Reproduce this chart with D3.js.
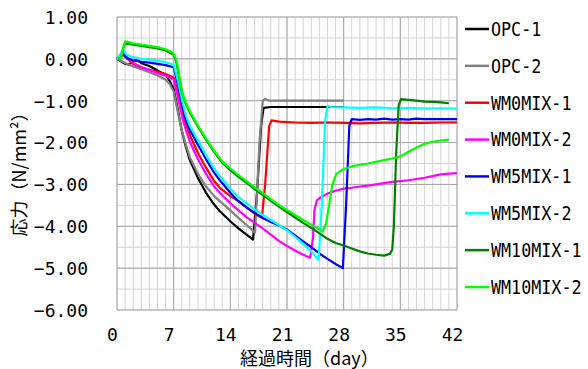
<!DOCTYPE html>
<html>
<head>
<meta charset="utf-8">
<script src="https://cdn.jsdelivr.net/npm/d3@7"></script>
<style>
  body { margin: 0; background: #fff; }
  svg { display: block; }
  .tick text { font-family: "DejaVu Sans Mono", monospace; font-size: 18px; fill: #000; }
  .jp { font-family: "Noto Sans CJK JP", sans-serif; fill: #000; }
  .leg { font-family: "DejaVu Sans Mono", monospace; font-size: 19px; fill: #000; }
</style>
</head>
<body>
<svg width="588" height="369"></svg>
<script>
// series names, in legend order
const names = ["OPC-1", "OPC-2", "WM0MIX-1", "WM0MIX-2", "WM5MIX-1", "WM5MIX-2", "WM10MIX-1", "WM10MIX-2"];

// [day, stress N/mm2]
const opc1 = [[0,0],[0.5,-0.06],[1,-0.12],[1.5,-0.13],[2,-0.05],[2.3,-0.02],[2.7,-0.05],[3,-0.1],[3.5,-0.14],[4,-0.17],[5,-0.28],[5.5,-0.33],[6,-0.38],[6.5,-0.52],[7,-0.72],[7.5,-1.2],[8,-1.72],[8.5,-2.1],[9,-2.42],[10,-2.85],[11,-3.2],[12,-3.48],[12.7,-3.64],[14,-3.88],[15,-4.05],[16,-4.2],[16.8,-4.32],[17.3,-3.2],[17.8,-1.6],[18.1,-1.17],[19,-1.15],[22,-1.15],[25,-1.15],[28,-1.15]];
const opc2 = [[0,0],[1,-0.1],[2,-0.18],[3,-0.25],[4,-0.32],[5,-0.4],[6,-0.5],[6.5,-0.6],[7,-0.78],[7.5,-1.25],[8,-1.7],[8.5,-2.05],[9,-2.35],[10,-2.75],[11,-3.05],[12,-3.28],[12.7,-3.4],[14,-3.62],[15,-3.8],[16,-3.97],[17.05,-4.15],[17.6,-2.0],[18.0,-1.0],[18.3,-0.96],[18.8,-1.0],[22,-1.0],[25,-1.0],[28,-1.0]];
const wm0mix1 = [[0,0],[0.7,0.1],[1,0.05],[2,-0.12],[3,-0.2],[4,-0.26],[5,-0.31],[6,-0.36],[7,-0.45],[7.5,-0.8],[8,-1.2],[8.5,-1.55],[9,-1.82],[10,-2.25],[11,-2.6],[12,-2.92],[12.7,-3.08],[14,-3.28],[15,-3.4],[16,-3.55],[17,-3.7],[17.9,-3.8],[18.3,-3.0],[18.8,-1.6],[19.1,-1.47],[20,-1.5],[22,-1.52],[24,-1.53],[26,-1.52],[28,-1.53],[30,-1.54],[32,-1.53],[34,-1.52],[36,-1.53],[38,-1.53],[40,-1.52],[42,-1.52]];
const wm0mix2 = [[0,0],[0.8,0.2],[1.2,0.05],[2,-0.1],[3,-0.2],[4,-0.27],[5,-0.34],[6,-0.4],[7,-0.5],[7.5,-0.9],[8,-1.35],[8.5,-1.7],[9,-1.98],[10,-2.4],[11,-2.75],[12,-3.05],[12.7,-3.2],[14,-3.45],[15,-3.62],[16,-3.78],[17,-3.92],[18,-4.05],[19,-4.2],[20,-4.35],[21,-4.47],[22,-4.58],[23,-4.68],[23.85,-4.75],[24.2,-4.3],[24.4,-3.6],[24.7,-3.38],[25,-3.33],[26,-3.22],[27,-3.15],[28,-3.1],[29,-3.08],[30,-3.05],[31,-3.03],[32,-3.0],[33,-2.97],[34,-2.94],[35,-2.92],[36,-2.9],[37,-2.87],[38,-2.84],[39,-2.8],[40,-2.76],[41,-2.74],[42,-2.73]];
const wm5mix1 = [[0,0],[0.8,0.12],[1.2,0.02],[2,-0.04],[3,-0.07],[4,-0.09],[5,-0.12],[6,-0.15],[7,-0.2],[7.5,-0.6],[8,-1.05],[8.5,-1.45],[9,-1.7],[10,-2.05],[11,-2.4],[12,-2.72],[12.7,-2.9],[14,-3.2],[15,-3.4],[16,-3.55],[17,-3.68],[18,-3.8],[19,-3.9],[20,-3.98],[21,-4.08],[22,-4.22],[23,-4.36],[24,-4.5],[25,-4.65],[26,-4.78],[27,-4.9],[27.9,-5.0],[28.3,-3.5],[28.7,-1.6],[29,-1.44],[30,-1.46],[31,-1.44],[32,-1.45],[33,-1.43],[34,-1.45],[35,-1.44],[36,-1.45],[37,-1.43],[38,-1.44],[40,-1.44],[42,-1.44]];
const wm5mix2 = [[0,0],[0.8,0.2],[1.2,0.1],[2,0.04],[3,0.0],[4,-0.02],[5,-0.05],[6,-0.08],[7,-0.14],[7.5,-0.5],[8,-0.95],[8.5,-1.35],[9,-1.6],[10,-1.95],[11,-2.3],[12,-2.62],[12.7,-2.8],[14,-3.1],[15,-3.3],[16,-3.45],[17,-3.6],[18,-3.73],[19,-3.85],[20,-3.97],[21,-4.1],[22,-4.25],[23,-4.42],[24,-4.6],[24.9,-4.8],[25.3,-3.5],[25.7,-1.5],[26.0,-1.12],[26.5,-1.15],[28,-1.16],[30,-1.17],[32,-1.16],[34,-1.18],[36,-1.17],[38,-1.19],[40,-1.18],[42,-1.19]];
const wm10mix1 = [[0,0],[0.5,0.02],[0.8,0.27],[1,0.37],[2,0.34],[3,0.31],[4,0.28],[5,0.25],[6,0.2],[7,0.1],[7.3,-0.05],[7.6,-0.35],[8,-0.78],[8.5,-1.08],[9,-1.28],[10,-1.62],[11,-1.93],[12,-2.22],[13,-2.48],[14,-2.66],[15,-2.82],[16,-2.96],[17,-3.11],[18,-3.25],[19,-3.39],[20,-3.53],[21,-3.66],[22,-3.79],[23,-3.92],[24,-4.04],[25,-4.17],[26,-4.3],[27,-4.4],[28,-4.46],[29,-4.53],[30,-4.6],[31,-4.65],[32,-4.68],[33,-4.7],[33.7,-4.66],[34,-4.56],[34.2,-4.0],[34.5,-2.2],[34.8,-1.1],[35.1,-0.96],[36,-0.98],[37,-1.0],[38,-1.02],[39,-1.03],[40,-1.04],[41,-1.06]];
const wm10mix2 = [[0,0],[0.5,0.02],[0.8,0.3],[1,0.42],[1.5,0.4],[2,0.37],[3,0.34],[4,0.31],[5,0.28],[6,0.23],[6.5,0.19],[7,0.12],[7.3,0.0],[7.6,-0.3],[8,-0.75],[8.5,-1.05],[9,-1.25],[10,-1.6],[11,-1.9],[12,-2.2],[13,-2.45],[14,-2.62],[15,-2.78],[16,-2.92],[17,-3.07],[18,-3.21],[19,-3.35],[20,-3.49],[21,-3.61],[22,-3.73],[23,-3.85],[24,-3.96],[25,-4.07],[25.4,-4.12],[25.8,-3.95],[26.2,-3.5],[26.6,-3.0],[27.1,-2.75],[28,-2.63],[29,-2.57],[30,-2.53],[31,-2.5],[32,-2.46],[33,-2.42],[34,-2.38],[35,-2.33],[36,-2.22],[37,-2.12],[38,-2.03],[39,-1.98],[40,-1.95],[41,-1.93]];

const xTicks = [0, 7, 14, 21, 28, 35, 42];
const yTicks = [1, 0, -1, -2, -3, -4, -5, -6];

const allSeries = [opc1, opc2, wm0mix1, wm0mix2, wm5mix1, wm5mix2, wm10mix1, wm10mix2];
const colors = ["#000000", "#808080", "#ff0000", "#ff00ff", "#0000ff", "#00ffff", "#008000", "#00ff00"];

const svg = d3.select("svg");
const plotL = 117, plotR = 457, plotT = 17, plotB = 310;

const x = d3.scaleLinear().domain([0, 42]).range([plotL, plotR]);
const y = d3.scaleLinear().domain([-6, 1]).range([plotB, plotT]);

// minor grid
const grid = svg.append("g");
grid.selectAll(".vmin").data(d3.range(0, 43)).enter().append("line")
  .attr("x1", d => x(d)).attr("x2", d => x(d))
  .attr("y1", plotT).attr("y2", plotB)
  .attr("stroke", "#d4d4d4").attr("stroke-width", 1);
grid.selectAll(".hmin").data(d3.range(-6, 1.01, 0.5)).enter().append("line")
  .attr("x1", plotL).attr("x2", plotR)
  .attr("y1", d => y(d)).attr("y2", d => y(d))
  .attr("stroke", "#d4d4d4").attr("stroke-width", 1);
// major grid
grid.selectAll(".vmaj").data(xTicks).enter().append("line")
  .attr("x1", d => x(d)).attr("x2", d => x(d))
  .attr("y1", plotT).attr("y2", plotB)
  .attr("stroke", "#a6a6a6").attr("stroke-width", 1);
grid.selectAll(".hmaj").data(yTicks).enter().append("line")
  .attr("x1", plotL).attr("x2", plotR)
  .attr("y1", d => y(d)).attr("y2", d => y(d))
  .attr("stroke", "#a6a6a6").attr("stroke-width", 1);

// axes (labels only)
const fmt = d3.format(".2f");
svg.append("g")
  .attr("transform", `translate(${plotL - 29},0)`)
  .call(d3.axisLeft(y).tickValues(yTicks).tickSize(0).tickPadding(0).tickFormat(fmt))
  .call(g => g.select(".domain").remove())
  .selectAll("text").attr("dy", "0.35em");

svg.append("g")
  .attr("transform", `translate(0,${plotB + 21})`)
  .call(d3.axisBottom(x).tickValues(xTicks).tickSize(0).tickPadding(0))
  .call(g => g.select(".domain").remove())
  .selectAll("text").attr("dx", "-5").attr("dy", "0.55em");

// lines
const line = d3.line().x(d => x(d[0])).y(d => y(d[1]));
svg.append("g").selectAll("path").data(allSeries).enter().append("path")
  .attr("d", line)
  .attr("fill", "none")
  .attr("stroke", (d, i) => colors[i])
  .attr("stroke-width", 2.2)
  .attr("stroke-linejoin", "round");

// axis titles
svg.append("text").attr("class", "jp")
  .attr("transform", "translate(26,170) rotate(-90)")
  .attr("text-anchor", "middle")
  .attr("font-size", 18)
  .text("応力（N/mm²）");

svg.append("text").attr("class", "jp")
  .attr("x", 240).attr("y", 365)
  .attr("font-size", 18)
  .text("経過時間（day）");

// legend
const ly = d3.scaleLinear().domain([0, 7]).range([29, 287]);
const leg = svg.append("g").selectAll("g").data(names).enter().append("g")
  .attr("transform", (d, i) => `translate(0,${ly(i)})`);
leg.append("line").attr("x1", 465).attr("x2", 489)
  .attr("stroke", (d, i) => colors[i]).attr("stroke-width", 2.5);
leg.append("text").attr("class", "leg")
  .attr("transform", "translate(491,0) scale(0.88,1)")
  .attr("dy", "0.36em")
  .text(d => d);
</script>
</body>
</html>
